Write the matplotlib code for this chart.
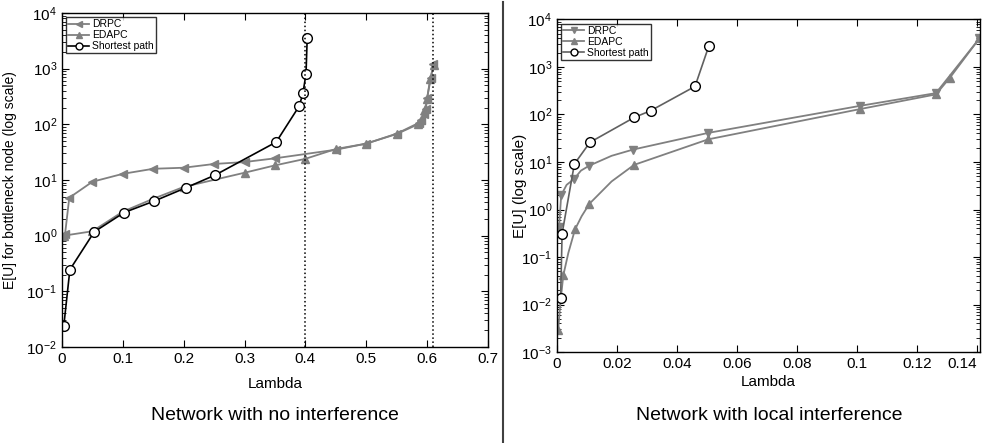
import matplotlib
matplotlib.use('Agg')
import matplotlib.pyplot as plt
from matplotlib.lines import Line2D

plt.rcParams['font.family'] = ['Liberation Sans', 'DejaVu Sans']
plt.rcParams['mathtext.fontset'] = 'custom'
plt.rcParams['mathtext.rm'] = 'Liberation Sans'
plt.rcParams['mathtext.it'] = 'Liberation Sans:italic'

GRAY = '#808080'

# --- left panel: network with no interference ---
sp_lam_a = [0.003, 0.013, 0.053, 0.102, 0.152, 0.203, 0.252, 0.352, 0.39, 0.396, 0.401, 0.403]
sp_eu_a = [0.024, 0.245, 1.17, 2.6, 4.2, 7.2, 12.3, 48, 214, 365, 800, 3560]

drpc_lam_a = [0.005, 0.012, 0.05, 0.1, 0.15, 0.2, 0.25, 0.3, 0.35, 0.45, 0.5, 0.55,
              0.587, 0.59, 0.595, 0.598, 0.6, 0.606, 0.61]
drpc_eu_a = [1.05, 4.8, 9.3, 12.9, 15.9, 16.6, 19.4, 21, 24.5, 35, 45, 68,
             107, 120, 155, 190, 295, 670, 1200]

edapc_lam_a = [0.003, 0.05, 0.1, 0.15, 0.2, 0.3, 0.35, 0.4, 0.45, 0.5, 0.55,
               0.585, 0.59, 0.597, 0.6, 0.605, 0.611]
edapc_eu_a = [1.0, 1.2, 2.7, 4.6, 7.5, 13.5, 18.3, 24, 36, 45, 67,
              100, 118, 185, 290, 650, 1150]

capacity_a = [0.4, 0.61]
xticks_a = [0, 0.1, 0.2, 0.3, 0.4, 0.5, 0.6, 0.7]
xticklabels_a = ['0', '0.1', '0.2', '0.3', '0.4', '0.5', '0.6', '0.7']

# --- right panel: network with local interference ---
sp_lam_b = [0.0012, 0.0017, 0.0058, 0.011, 0.0258, 0.0312, 0.046, 0.0506]
sp_eu_b = [0.0134, 0.31, 9.1, 26, 87, 120, 390, 2760]

# curve points; markers only on some of them
drpc_lam_b = [0.0007, 0.0014, 0.0032, 0.0057, 0.008, 0.0108, 0.0182, 0.0254, 0.0504,
              0.101, 0.1263, 0.1408]
drpc_eu_b = [0.43, 2.0, 3.3, 4.4, 6.6, 8.4, 13.5, 18.3, 41, 152, 282, 4000]
drpc_marks_b = [0, 1, 3, 5, 7, 8, 9, 10, 11]

edapc_lam_b = [0.0004, 0.0012, 0.0021, 0.0038, 0.006, 0.0082, 0.0108, 0.0182, 0.0257,
               0.0504, 0.101, 0.1263, 0.131, 0.1408]
edapc_eu_b = [0.0029, 0.012, 0.041, 0.123, 0.38, 0.72, 1.32, 3.9, 8.7,
              30, 130, 265, 600, 4000]
edapc_marks_b = [0, 2, 4, 6, 8, 9, 10, 11, 12, 13]

xticks_b = [0, 0.02, 0.04, 0.06, 0.08, 0.1, 0.12, 0.14]
xticklabels_b = ['0', '0.02', '0.04', '0.06', '0.08', '0.1', '0.12', '0.14']

fig = plt.figure(figsize=(9.82, 4.43), dpi=100)
ax1 = fig.add_axes([0.0631, 0.2167, 0.4338, 0.754])
ax2 = fig.add_axes([0.5672, 0.2054, 0.4308, 0.7506])

ms = 6
ax1.plot(drpc_lam_a, drpc_eu_a, color=GRAY, marker='<', ms=ms, lw=1.3, label='DRPC')
ax1.plot(edapc_lam_a, edapc_eu_a, color=GRAY, marker='^', ms=ms, lw=1.3, label='EDAPC')
ax1.plot(sp_lam_a, sp_eu_a, color='black', marker='o', ms=7, mfc='white', mec='black',
         lw=1.2, label='Shortest path')
for c in capacity_a:
    ax1.axvline(c, color='black', ls=':', lw=1.1)
ax1.set_yscale('log')
ax1.set_xlim(0, 0.7)
ax1.set_ylim(1e-2, 1e4)
ax1.set_xticks(xticks_a)
ax1.set_xticklabels(xticklabels_a)
ax1.set_xlabel('Lambda', fontsize=11)
ax1.xaxis.set_label_coords(0.5, -0.09)
ax1.set_ylabel('E[U] for bottleneck node (log scale)', fontsize=10)
ax1.yaxis.set_label_coords(-0.105, 0.5)

ax2.plot(drpc_lam_b, drpc_eu_b, color=GRAY, marker='v', ms=ms, lw=1.3,
         markevery=drpc_marks_b, label='DRPC')
ax2.plot(edapc_lam_b, edapc_eu_b, color=GRAY, marker='^', ms=ms, lw=1.3,
         markevery=edapc_marks_b, label='EDAPC')
ax2.plot(sp_lam_b, sp_eu_b, color='#606060', marker='o', ms=7, mfc='white', mec='black',
         lw=1.2, label='Shortest path')
ax2.set_yscale('log')
ax2.set_xlim(0, 0.141)
ax2.set_ylim(1e-3, 1e4)
ax2.set_xticks(xticks_b)
ax2.set_xticklabels(xticklabels_b)
ax2.get_xticklabels()[-1].set_horizontalalignment('right')
ax2.set_xlabel('Lambda', fontsize=11)
ax2.xaxis.set_label_coords(0.5, -0.07)
ax2.set_ylabel('E[U] (log scale)', fontsize=11)
ax2.yaxis.set_label_coords(-0.072, 0.5)

for ax in (ax1, ax2):
    ax.tick_params(which='both', direction='in', top=True, right=True, labelsize=11)
    ax.tick_params(which='major', length=5)
    ax.tick_params(which='minor', length=3)
    for s in ax.spines.values():
        s.set_linewidth(1.0)
    leg = ax.legend(loc='upper left', fontsize=7.5, frameon=True, fancybox=False,
                    edgecolor='black', handlelength=2.0, handletextpad=0.3,
                    borderpad=0.2, labelspacing=0.1, borderaxespad=0.4)
    leg.get_frame().set_linewidth(1.0)
    for h in leg.legend_handles:
        h.set_markersize(5)
        h.set_markevery([1])

fig.text(0.28, 0.063, 'Network with no interference', ha='center', va='center', fontsize=14)
fig.text(0.783, 0.063, 'Network with local interference', ha='center', va='center', fontsize=14)
fig.add_artist(Line2D([503 / 982, 503 / 982], [0, 0.995], color='#404040', lw=1.5))

fig.savefig('out.png', dpi=100)
